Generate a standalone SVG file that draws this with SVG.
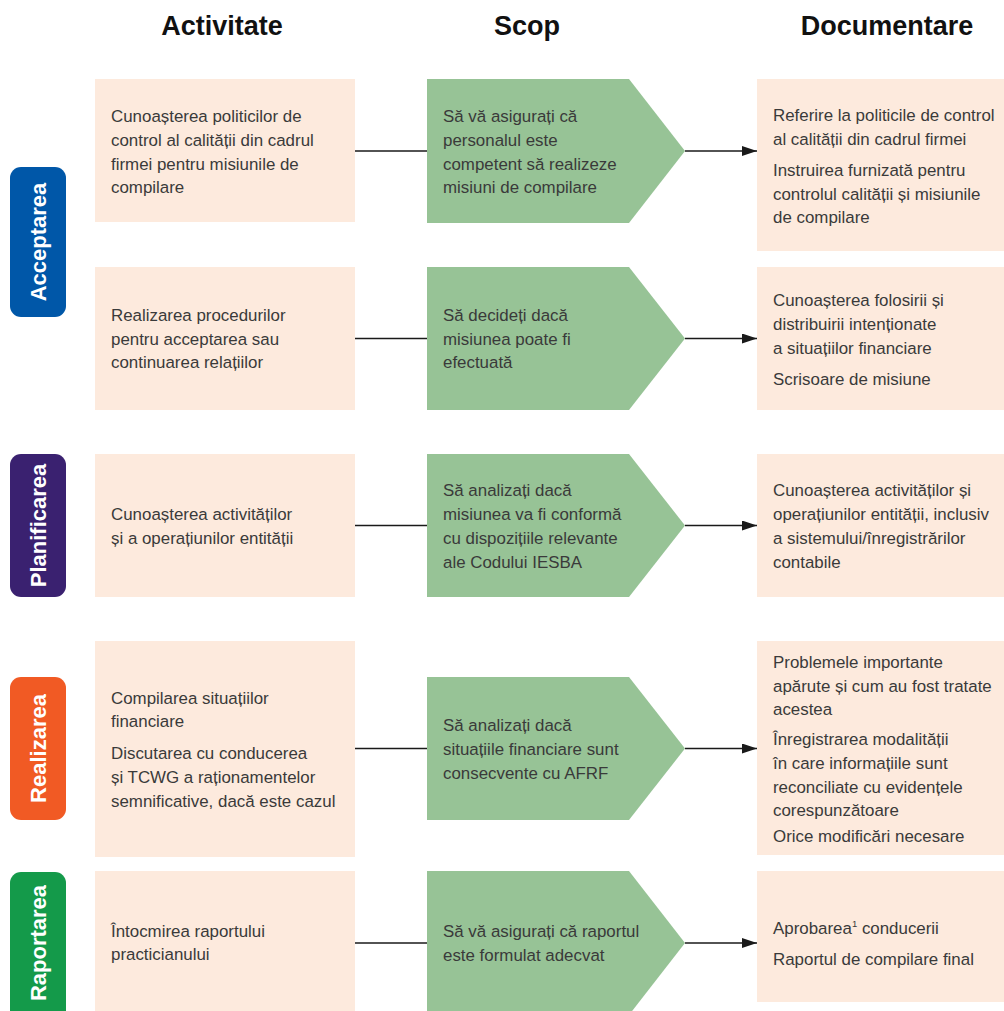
<svg xmlns="http://www.w3.org/2000/svg" width="1004" height="1011" viewBox="0 0 1004 1011">
<defs>
<style>
.hdr{font-family:"Liberation Sans",Arial,sans-serif;font-weight:bold;font-size:27px;fill:#111;text-anchor:middle}
.lab{font-family:"Liberation Sans",Arial,sans-serif;font-weight:bold;font-size:22px;fill:#fff;text-anchor:middle}
.t{font-family:"Liberation Sans",Arial,sans-serif;font-size:16.9px;fill:#3a3a3a}
.box{fill:#fdeadd}
.sc{fill:#97c396}
.ln{stroke:#1a1a1a;stroke-width:1.3;fill:none}
</style>
<marker id="ah" viewBox="0 0 10 10" refX="10" refY="5" markerWidth="15" markerHeight="10" markerUnits="userSpaceOnUse" orient="auto" preserveAspectRatio="none">
<path d="M0,0 L10,5 L0,10 Z" fill="#1a1a1a"/>
</marker>
</defs>
<rect width="1004" height="1011" fill="#fff"/>
<g id="headers">
<text class="hdr" x="222" y="35">Activitate</text>
<text class="hdr" x="527" y="35">Scop</text>
<text class="hdr" x="887" y="35">Documentare</text>
</g>
<g id="phase-acceptarea"><rect x="10" y="167" width="56" height="150" rx="11" fill="#0057a8"/><text class="lab" transform="translate(46,242) rotate(-90)">Acceptarea</text></g>
<g id="phase-planificarea"><rect x="10" y="454" width="56" height="143" rx="11" fill="#3a2170"/><text class="lab" transform="translate(46,525.5) rotate(-90)">Planificarea</text></g>
<g id="phase-realizarea"><rect x="10" y="677" width="56" height="143" rx="11" fill="#f15a24"/><text class="lab" transform="translate(46,748.5) rotate(-90)">Realizarea</text></g>
<g id="phase-raportarea"><rect x="10" y="872" width="56" height="150" rx="11" fill="#149a4a"/><text class="lab" transform="translate(46,943) rotate(-90)">Raportarea</text></g>

<g id="connectors">
<line class="ln" x1="355" y1="151" x2="427" y2="151"/>
<line class="ln" x1="685" y1="151" x2="757" y2="151" marker-end="url(#ah)"/>
<line class="ln" x1="355" y1="338.5" x2="427" y2="338.5"/>
<line class="ln" x1="685" y1="338.5" x2="757" y2="338.5" marker-end="url(#ah)"/>
<line class="ln" x1="355" y1="525.5" x2="427" y2="525.5"/>
<line class="ln" x1="685" y1="525.5" x2="757" y2="525.5" marker-end="url(#ah)"/>
<line class="ln" x1="355" y1="748.5" x2="427" y2="748.5"/>
<line class="ln" x1="685" y1="748.5" x2="757" y2="748.5" marker-end="url(#ah)"/>
<line class="ln" x1="355" y1="943" x2="427" y2="943"/>
<line class="ln" x1="685" y1="943" x2="757" y2="943" marker-end="url(#ah)"/>
</g>

<g id="act1"><rect class="box" x="95" y="79" width="260" height="143"/>
<text class="t" x="111" y="122">Cunoașterea politicilor de</text>
<text class="t" x="111" y="146">control al calității din cadrul</text>
<text class="t" x="111" y="170">firmei pentru misiunile de</text>
<text class="t" x="111" y="193">compilare</text></g>
<g id="scop1"><path class="sc" d="M427,79 H629 L685,151 L629,223 H427 Z"/>
<text class="t" x="443" y="122">Să vă asigurați că</text>
<text class="t" x="443" y="146">personalul este</text>
<text class="t" x="443" y="170">competent să realizeze</text>
<text class="t" x="443" y="193">misiuni de compilare</text></g>
<g id="doc1"><rect class="box" x="757" y="79" width="247" height="172"/>
<text class="t" x="773" y="121">Referire la politicile de control</text>
<text class="t" x="773" y="145">al calității din cadrul firmei</text>
<text class="t" x="773" y="176">Instruirea furnizată pentru</text>
<text class="t" x="773" y="200">controlul calității și misiunile</text>
<text class="t" x="773" y="223">de compilare</text></g>

<g id="act2"><rect class="box" x="95" y="267" width="260" height="143"/>
<text class="t" x="111" y="321">Realizarea procedurilor</text>
<text class="t" x="111" y="345">pentru acceptarea sau</text>
<text class="t" x="111" y="368">continuarea relațiilor</text></g>
<g id="scop2"><path class="sc" d="M427,267 H629 L685,338.5 L629,410 H427 Z"/>
<text class="t" x="443" y="321">Să decideți dacă</text>
<text class="t" x="443" y="345">misiunea poate fi</text>
<text class="t" x="443" y="368">efectuată</text></g>
<g id="doc2"><rect class="box" x="757" y="267" width="247" height="143"/>
<text class="t" x="773" y="306">Cunoașterea folosirii și</text>
<text class="t" x="773" y="330">distribuirii intenționate</text>
<text class="t" x="773" y="354">a situațiilor financiare</text>
<text class="t" x="773" y="385">Scrisoare de misiune</text></g>

<g id="act3"><rect class="box" x="95" y="454" width="260" height="143"/>
<text class="t" x="111" y="520">Cunoașterea activităților</text>
<text class="t" x="111" y="544">și a operațiunilor entității</text></g>
<g id="scop3"><path class="sc" d="M427,454 H629 L685,525.5 L629,597 H427 Z"/>
<text class="t" x="443" y="496">Să analizați dacă</text>
<text class="t" x="443" y="520">misiunea va fi conformă</text>
<text class="t" x="443" y="544">cu dispozițiile relevante</text>
<text class="t" x="443" y="568">ale Codului IESBA</text></g>
<g id="doc3"><rect class="box" x="757" y="454" width="247" height="143"/>
<text class="t" x="773" y="496">Cunoașterea activităților și</text>
<text class="t" x="773" y="520">operațiunilor entității, inclusiv</text>
<text class="t" x="773" y="544">a sistemului/înregistrărilor</text>
<text class="t" x="773" y="568">contabile</text></g>

<g id="act4"><rect class="box" x="95" y="641" width="260" height="216"/>
<text class="t" x="111" y="704">Compilarea situațiilor</text>
<text class="t" x="111" y="727">financiare</text>
<text class="t" x="111" y="759">Discutarea cu conducerea</text>
<text class="t" x="111" y="783">și TCWG a raționamentelor</text>
<text class="t" x="111" y="807">semnificative, dacă este cazul</text></g>
<g id="scop4"><path class="sc" d="M427,677 H629 L685,748.5 L629,820 H427 Z"/>
<text class="t" x="443" y="731">Să analizați dacă</text>
<text class="t" x="443" y="755">situațiile financiare sunt</text>
<text class="t" x="443" y="779">consecvente cu AFRF</text></g>
<g id="doc4"><rect class="box" x="757" y="641" width="247" height="214"/>
<text class="t" x="773" y="668">Problemele importante</text>
<text class="t" x="773" y="692">apărute și cum au fost tratate</text>
<text class="t" x="773" y="715">acestea</text>
<text class="t" x="773" y="745">Înregistrarea modalității</text>
<text class="t" x="773" y="769">în care informațiile sunt</text>
<text class="t" x="773" y="793">reconciliate cu evidențele</text>
<text class="t" x="773" y="816">corespunzătoare</text>
<text class="t" x="773" y="842">Orice modificări necesare</text></g>

<g id="act5"><rect class="box" x="95" y="871" width="260" height="150"/>
<text class="t" x="111" y="937">Întocmirea raportului</text>
<text class="t" x="111" y="960">practicianului</text></g>
<g id="scop5"><path class="sc" d="M427,871 H629 L685,943 L629,1015 H427 Z"/>
<text class="t" x="443" y="937">Să vă asigurați că raportul</text>
<text class="t" x="443" y="961">este formulat adecvat</text></g>
<g id="doc5"><rect class="box" x="757" y="871" width="247" height="131"/>
<text class="t" x="773" y="934">Aprobarea<tspan font-size="9.5" dy="-7">1</tspan><tspan dy="7"> conducerii</tspan></text>
<text class="t" x="773" y="965">Raportul de compilare final</text></g>
</svg>
